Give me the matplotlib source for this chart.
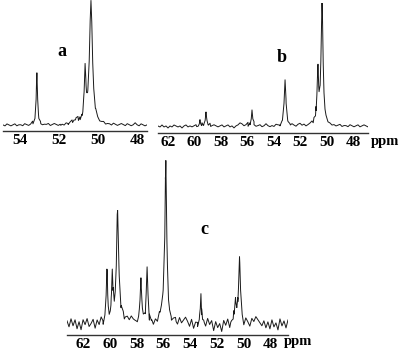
import numpy as np
import matplotlib
matplotlib.use("Agg")
import matplotlib.pyplot as plt

plt.rcParams['font.family'] = ['Liberation Serif', 'DejaVu Serif']

# ---- panel a : 54.85 .. 47.5 ppm
a_lim = (54.85, 47.5)
a_ticks = [54, 52, 50, 48]
a_peak_ppm = [53.12, 51.15, 50.66, 50.36]
a_peak_height = [53, 4, 52, 124]
a_peak_hwhm = [0.04, 0.15, 0.05, 0.09]
a_noise = [1, 0, 2, 1, 0, 1, 2, 0, 1, 1, 0, 2, 1, 0, 1, 3, 1, 0, 1, 2,
           0, 1, 1, 2, 0, 1, 2, 1, 0, 1, 1, 0, 2, 1, 2, 3, 1, 2, 4, 3,
           2, 3, 1, 0, 1, 0, 1, 2, 1, 0, 1, 2, 0, 1, 1, 0, 2, 1, 0, 1,
           2, 1, 0, 2, 1, 0, 1, 3, 1, 0, 2, 1, 0, 1]

# ---- panel b : 62.76 .. 46.86 ppm
b_lim = (62.76, 46.86)
b_ticks = [62, 60, 58, 56, 54, 52, 50, 48]
b_peak_ppm = [59.58, 59.12, 55.64, 53.14, 50.66, 50.34]
b_peak_height = [6, 13, 16, 47, 52, 123]
b_peak_hwhm = [0.05, 0.07, 0.06, 0.08, 0.07, 0.09]
b_noise = [1, 0, 2, 0, 1, -1, 1, 0, 2, 1, 0, 1, -1, 1, 2, 0, 1, 0, 1, 2,
           0, 1, 3, 1, 2, 0, 3, 1, 2, 1, 0, 1, 2, 0, 1, 2, 0, 1, -1, 1,
           2, 4, 3, 1, 2, 4, 2, 1, 3, 0, 1, 2, 0, 1, 3, 1, 0, 1, 0, 2,
           1, -1, 1, 0, 2, 0, 1, 2, 1, 0, 2, 3, 1, 2, 0, 1, 2, 3, 4, 5,
           3, 2, 1, 0, 1, 0, 1, 0, 1, 0, 1, 2, 0, 1, 1, 0, 2, 1, 0, 1,
           2, 0, 1, 2, 1, 0]

# ---- panel c : 63.2 .. 46.7 ppm
c_lim = (63.2, 46.7)
c_ticks = [62, 60, 58, 56, 54, 52, 50, 48]
c_peak_ppm = [60.22, 59.82, 59.42, 57.68, 57.22, 56.05, 55.82, 53.2, 50.62, 50.32]
c_peak_height = [52, 47, 112, 44, 55, 12, 158, 30, 22, 66]
c_peak_hwhm = [0.06, 0.06, 0.1, 0.07, 0.07, 0.2, 0.08, 0.05, 0.07, 0.08]
c_noise = [3, -3, 5, -2, 4, -5, 2, -6, 4, -1, 5, -3, 0, 4, -5, 3, -2, 5, -4, 1,
           4, -2, 3, 6, 2, 5, 1, 4, 6, 3, 5, 2, 6, 3, 1, -2, 2, -4, 0, -5,
           -2, -6, -1, -4, 1, -3, 3, 0, 5, 2, 6, 1, -3, 2, 4, -2, 5, 0, 3, 6,
           2, -3, 4, -5, 1, -4, 3, -6, 2, -3, 5, -1, 3, -7, 2, -4, 0, -8, 3, -2,
           4, -5, 1, 6, -3, 5, -2, 3, -5, 4, 1, -3, 5, 2, 7, 4, 1, -2, 3, -4,
           2, -5, 4, -3, 1, -6, 5, -2, 3, -4, 4]


def trace(lim, ppm, height, hwhm, noise):
    grid = np.linspace(lim[0], lim[1], len(noise))
    c = np.array(ppm)
    w = np.array(hwhm)
    extra = np.concatenate([c, c - w, c + w, c - 2.5 * w, c + 2.5 * w, c - 5 * w, c + 5 * w])
    x = np.concatenate([grid, extra])
    n = np.concatenate([np.array(noise, float), np.zeros(len(extra))])
    order = np.argsort(x)
    x, n = x[order], n[order]
    y = n.copy()
    for ci, hi, wi in zip(ppm, height, hwhm):
        y += hi / (1 + ((x - ci) / wi) ** 2)
    return x, y


W, H = 400, 359
fig = plt.figure(figsize=(W / 100, H / 100), dpi=100)


def panel(left, right, spine_y, top_y, base_off, lim, ticks, pk, ph, pw, noise):
    ax = fig.add_axes([left / W, (H - spine_y) / H, (right - left) / W, (spine_y - top_y) / H])
    x, y = trace(lim, pk, ph, pw, noise)
    ax.plot(x, y, color='#1a1a1a', lw=0.7)
    ax.set_xlim(lim)
    ax.set_ylim(-base_off, spine_y - top_y - base_off)
    ax.set_xticks(ticks)
    ax.set_xticklabels([str(t) for t in ticks], fontsize=11, fontweight='bold')
    ax.tick_params(axis='x', length=0, pad=2)
    ax.set_yticks([])
    for s in ['top', 'left', 'right']:
        ax.spines[s].set_visible(False)
    ax.spines['bottom'].set_color('#333333')
    ax.spines['bottom'].set_linewidth(1.0)
    ax.patch.set_alpha(0)
    return ax


panel(3, 147, 131, 0, 5, a_lim, a_ticks, a_peak_ppm, a_peak_height, a_peak_hwhm, a_noise)
panel(158, 368, 133, 3, 6, b_lim, b_ticks, b_peak_ppm, b_peak_height, b_peak_hwhm, b_noise)
panel(67, 288, 335, 155, 11, c_lim, c_ticks, c_peak_ppm, c_peak_height, c_peak_hwhm, c_noise)

fig.text(62 / W, 1 - 52 / H, 'a', fontsize=13, fontweight='bold', ha='center', va='center')
fig.text(282 / W, 1 - 57 / H, 'b', fontsize=13, fontweight='bold', ha='center', va='center')
fig.text(204 / W, 1 - 230 / H, 'c', fontsize=13, fontweight='bold', ha='center', va='center')
fig.text(371 / W, 1 - 141 / H, 'ppm', fontsize=10.5, fontweight='bold', ha='left', va='center')
fig.text(284 / W, 1 - 342 / H, 'ppm', fontsize=10.5, fontweight='bold', ha='left', va='center')

fig.savefig('out.png', dpi=100)
